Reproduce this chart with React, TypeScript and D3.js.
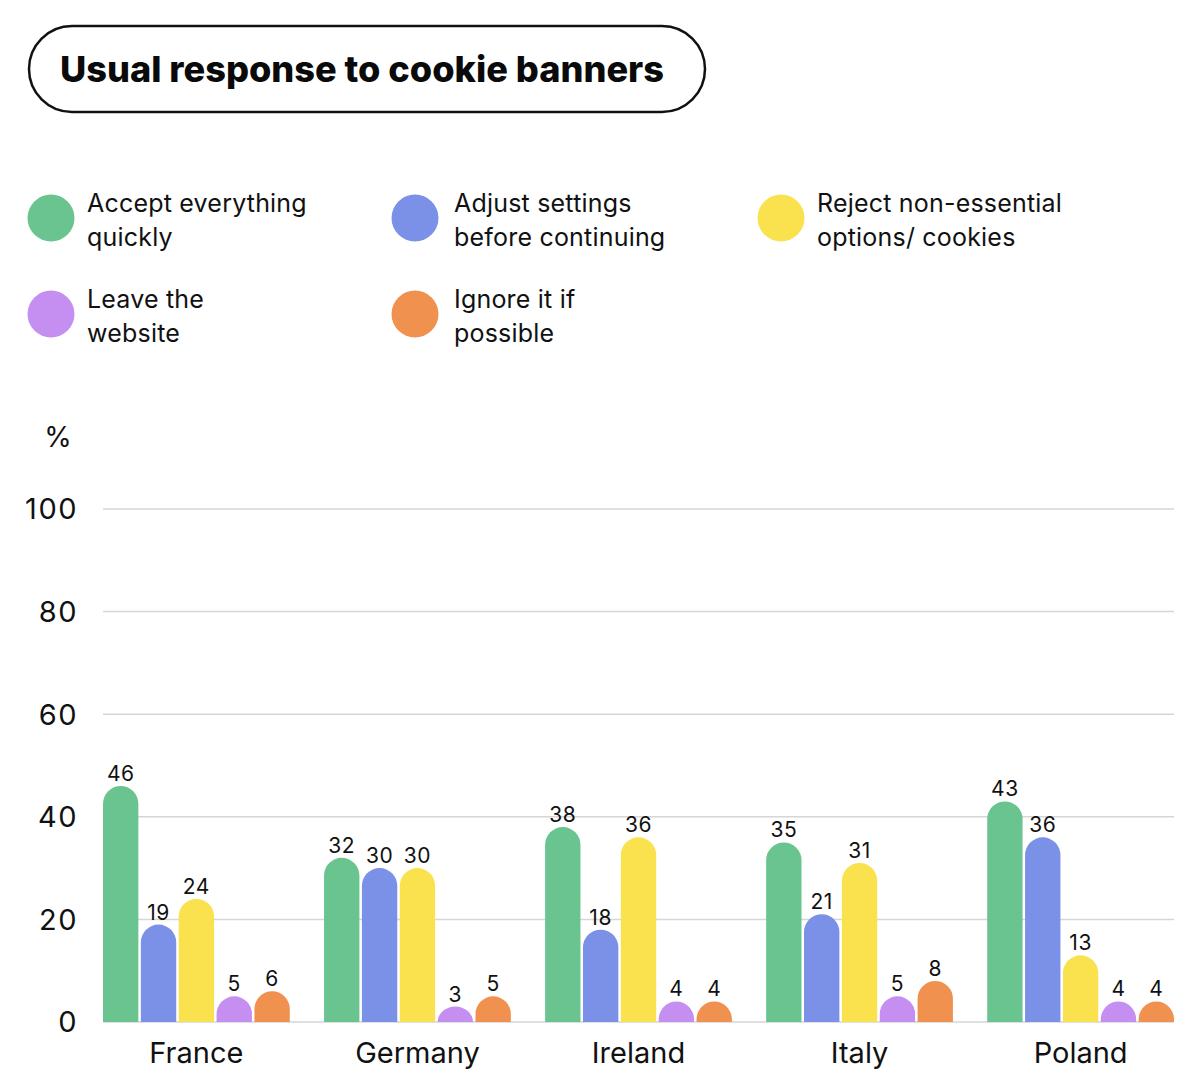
import React from 'react';
import * as d3 from 'd3';

const countries = ['France', 'Germany', 'Ireland', 'Italy', 'Poland'];
const seriesNames = [
    ['Accept everything', 'quickly'],
    ['Adjust settings', 'before continuing'],
    ['Reject non-essential', 'options/ cookies'],
    ['Leave the', 'website'],
    ['Ignore it if', 'possible'],
];
const seriesColors = ['#6AC48F', '#7A91E7', '#FAE24F', '#C48FF1', '#F19150'];

const acceptValues = [46, 32, 38, 35, 43];
const adjustValues = [19, 30, 18, 21, 36];
const rejectValues = [24, 30, 36, 31, 13];
const leaveValues = [5, 3, 4, 5, 4];
const ignoreValues = [6, 5, 4, 8, 4];
const yTicks = [0, 20, 40, 60, 80, 100];

const allSeries = [acceptValues, adjustValues, rejectValues, leaveValues, ignoreValues];

const font = 'Inter, "Noto Sans", sans-serif';

const width = 1200;
const height = 1083;
const margin = { top: 509, right: 26, bottom: 61, left: 103 };

// bar with a rounded top, flat bottom
const barPath = (x: number, y: number, w: number, h: number) => {
    const r = w / 2;
    const ry = Math.min(r, h);
    const b = y + h;
    return `M${x},${b} L${x},${y + ry} A${r},${ry} 0 0 1 ${x + w},${y + ry} L${x + w},${b} Z`;
};

export default function App() {
    const x0 = d3.scaleBand<string>()
        .domain(countries)
        .range([margin.left, width - margin.right])
        .paddingInner(0.155)
        .paddingOuter(0);

    const x1 = d3.scaleBand<number>()
        .domain(d3.range(allSeries.length))
        .range([0, x0.bandwidth()])
        .paddingInner(0.066);

    const y = d3.scaleLinear()
        .domain([0, 100])
        .range([height - margin.bottom, margin.top]);

    const legendPos = [
        { cx: 51, cy: 218, tx: 87 },
        { cx: 415, cy: 218, tx: 454 },
        { cx: 781, cy: 218, tx: 817 },
        { cx: 51, cy: 314, tx: 87 },
        { cx: 415, cy: 314, tx: 454 },
    ];

    return (
        <svg width={width} height={height} style={{ position: 'absolute', left: 0, top: 0, background: '#fff' }}>
            {/* title pill */}
            <rect x={29} y={26} width={676} height={86} rx={43} ry={43} fill="#fff" stroke="#111" strokeWidth={2.5} />
            <text x={60} y={82} fontFamily={font} fontWeight={800} fontSize={36} fill="#0a0a0a"
                textLength={604} lengthAdjust="spacingAndGlyphs">
                Usual response to cookie banners
            </text>

            {/* legend */}
            {seriesNames.map((lines, i) => (
                <g key={i}>
                    <circle cx={legendPos[i].cx} cy={legendPos[i].cy} r={23.5} fill={seriesColors[i]} />
                    {lines.map((line, j) => (
                        <text key={j} x={legendPos[i].tx} y={legendPos[i].cy - 15 + j * 34 + 9}
                            fontFamily={font} fontSize={25} letterSpacing={0.2} fill="#111">{line}</text>
                    ))}
                </g>
            ))}

            {/* y axis */}
            <text x={58} y={447} textAnchor="middle" fontFamily={font} fontSize={28} fill="#111">%</text>
            {yTicks.map(t => (
                <g key={t}>
                    <line x1={margin.left} x2={width - margin.right} y1={y(t)} y2={y(t)} stroke="#d6d6d6" strokeWidth={1.5} />
                    <text x={78} y={y(t)} dy="0.36em" textAnchor="end" fontFamily={font} fontSize={29}
                        letterSpacing={1.5} fill="#111">{t}</text>
                </g>
            ))}

            {/* bars */}
            {countries.map((c, ci) => (
                <g key={c}>
                    {allSeries.map((vals, si) => {
                        const bx = x0(c)! + x1(si)!;
                        const bw = x1.bandwidth();
                        const top = y(vals[ci]);
                        const h = y(0) - top;
                        return (
                            <g key={si}>
                                <path d={barPath(bx, top, bw, h)} fill={seriesColors[si]} />
                                <text x={bx + bw / 2} y={top - 5} textAnchor="middle" fontFamily={font} fontSize={21}
                                    letterSpacing={0.5} fill="#111">
                                    {vals[ci]}
                                </text>
                            </g>
                        );
                    })}
                    <text x={x0(c)! + x0.bandwidth() / 2} y={1063} textAnchor="middle" fontFamily={font} fontSize={29} fill="#111">{c}</text>
                </g>
            ))}
        </svg>
    );
}
